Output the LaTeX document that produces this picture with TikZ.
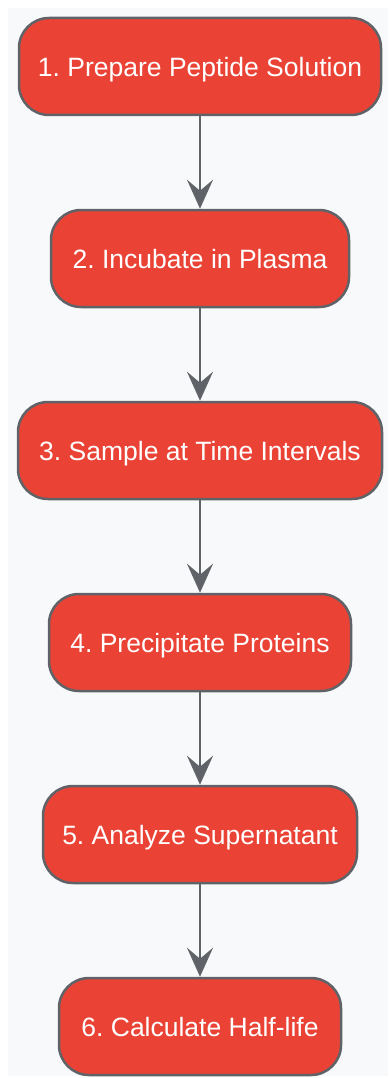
\documentclass[tikz,border=0pt]{standalone}
\usepackage{fontspec}
\setmainfont{Liberation Sans}
\usetikzlibrary{arrows.meta}
\definecolor{bgc}{HTML}{F8F9FA}
\definecolor{stepred}{HTML}{EA4335}
\definecolor{edgegray}{HTML}{5F6368}
\frenchspacing
\begin{document}
\begin{tikzpicture}[x=1pt,y=-1pt,
  stepbox/.style={draw=edgegray, line width=2.5pt, fill=stepred, rounded corners=30pt,
    minimum height=97pt, inner sep=0pt, text=white, text depth=0pt, font=\fontsize{26.5}{30}\selectfont, anchor=center},
  flow/.style={draw=edgegray, line width=2.5pt, -{Stealth[length=29pt, width=26pt, inset=11pt]}}]
\useasboundingbox (0,0) rectangle (388,1078);
\fill[bgc] (8,8) rectangle (388,1076);
\node[stepbox, minimum width=362pt] (s1) at (200,66.5) {1. Prepare Peptide Solution};
\node[stepbox, minimum width=298pt] (s2) at (200,258.5) {2. Incubate in Plasma};
\node[stepbox, minimum width=364pt] (s3) at (200,450.5) {3. Sample at Time Intervals};
\node[stepbox, minimum width=302pt] (s4) at (200,642.5) {4. Precipitate Proteins};
\node[stepbox, minimum width=314pt] (s5) at (200,834.5) {5. Analyze Supernatant};
\node[stepbox, minimum width=282pt] (s6) at (200,1026.5) {6. Calculate Half-life};
\draw[flow] (s1) -- (s2);
\draw[flow] (s2) -- (s3);
\draw[flow] (s3) -- (s4);
\draw[flow] (s4) -- (s5);
\draw[flow] (s5) -- (s6);
\end{tikzpicture}
\end{document}
